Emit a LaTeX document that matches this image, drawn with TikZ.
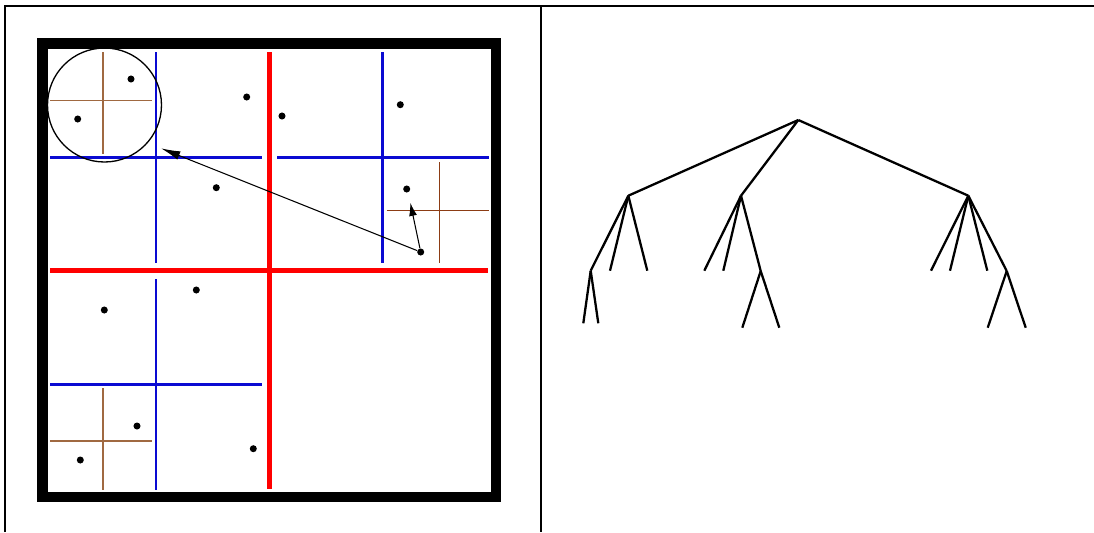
\documentclass[tikz,border=0pt]{standalone}
\usepackage{xcolor}
\usepackage{tikz}
\usetikzlibrary{arrows.meta}

\definecolor{cellbrown}{RGB}{160,105,65}
\definecolor{darkbrown}{RGB}{140,60,20}
\definecolor{splitblue}{RGB}{10,10,210}

\begin{document}
\begin{tikzpicture}[x=0.02cm, y=-0.02cm,
  frame/.style={black, line width=0.6pt},
  outer/.style={black, line width=6.24pt},
  lvone/.style={red, line width=2.8pt},
  lvtwo/.style={splitblue, line width=1.4pt},
  lvthree/.style={cellbrown, line width=0.75pt},
  pt/.style={circle, fill=black, inner sep=0pt, minimum size=4pt},
  ring/.style={draw, circle, line width=0.75pt, inner sep=0pt, minimum size=2.28cm},
  edge/.style={black, line width=1.3pt},
]
\useasboundingbox (0,0) rectangle (1094,532);
\draw[frame] (5,532) -- (5,6) -- (1094,6);
\draw[frame] (541,6) -- (541,532);

\draw[outer] (42.5,43.5) rectangle (496,497);
\draw[lvone] (269.5,52) -- (269.5,489);
\draw[lvone] (50,270.5) -- (488,270.5);
\draw[lvtwo] (156,52) -- (156,263);
\draw[lvtwo] (50,157.5) -- (262,157.5);
\draw[lvtwo] (382.7,52) -- (382.7,263);
\draw[lvtwo] (277,157.5) -- (488.7,157.5);
\draw[lvtwo] (156,279) -- (156,490);
\draw[lvtwo] (50,384.3) -- (262,384.3);
\draw[lvthree] (103,52) -- (103,154);
\draw[lvthree] (50,100.7) -- (152,100.7);
\draw[lvthree, darkbrown] (439.7,162) -- (439.7,263);
\draw[lvthree, darkbrown] (386.7,210.3) -- (488.7,210.3);
\draw[lvthree] (103,388) -- (103,490);
\draw[lvthree] (50,441) -- (152,441);

\node[ring] (zoom) at (104.5,105) {};
\foreach \x/\y [count=\i] in {131/79, 77.7/119, 246.7/97, 282/116, 216.3/187.7,
    400.3/104.7, 406.7/189, 420.7/252, 104.3/310, 196.3/290, 137/426,
    80.3/460, 253.3/448.7}
  \node[pt] (p\i) at (\x,\y) {};
\coordinate (ringtip) at (161,148.3);
\coordinate (crosstip) at (410.3,202.7);
\draw[-{Latex[length=11pt,width=5pt]}, line width=0.6pt] (p8) -- (ringtip);
\draw[-{Latex[length=7.5pt,width=4.5pt]}, line width=0.6pt] (p8) -- (crosstip);

\coordinate (r) at (798.3,120);
\coordinate (a) at (628.3,195.7);
\coordinate (b) at (741,195.7);
\coordinate (c) at (968.3,195.7);
\coordinate (a1) at (590.7,270.7);
\coordinate (a2) at (610,270.7);
\coordinate (a3) at (647.3,270.7);
\coordinate (b1) at (704.3,270.7);
\coordinate (b2) at (723.3,270.7);
\coordinate (b3) at (760.7,271);
\coordinate (c1) at (931,270.7);
\coordinate (c2) at (950,270.7);
\coordinate (c3) at (987.3,270.7);
\coordinate (c4) at (1006.7,271);
\coordinate (a11) at (583.3,323.3);
\coordinate (a12) at (598.3,323.3);
\coordinate (b31) at (742.3,327.7);
\coordinate (b32) at (779.3,327.7);
\coordinate (c41) at (987.7,327.7);
\coordinate (c42) at (1025.7,327.7);
\foreach \u/\v in {r/a, r/b, r/c, a/a1, a/a2, a/a3, b/b1, b/b2, b/b3,
    c/c1, c/c2, c/c3, c/c4, a1/a11, a1/a12, b3/b31, b3/b32, c4/c41, c4/c42}
  \draw[edge] (\u) -- (\v);
\end{tikzpicture}
\end{document}
